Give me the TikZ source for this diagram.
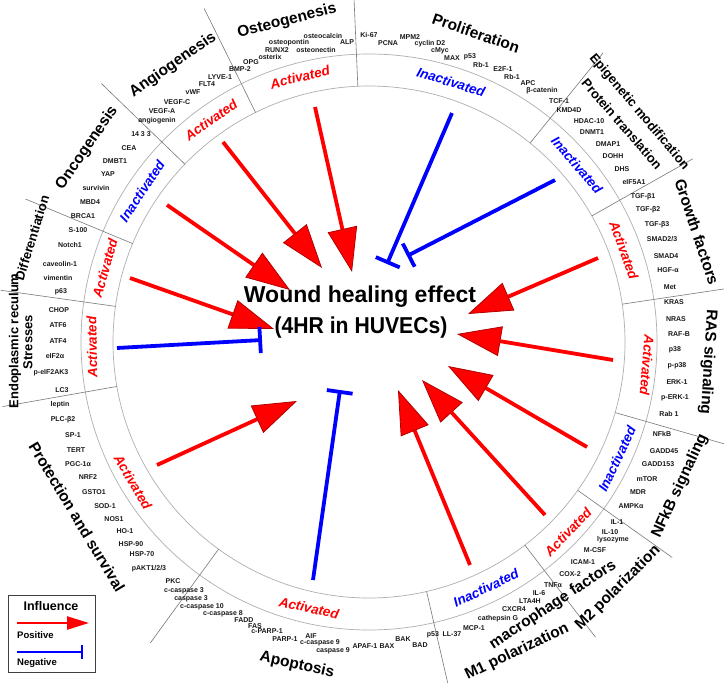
\documentclass[tikz,border=0pt]{standalone}
\usepackage{fontspec}
\setmainfont{Liberation Sans}
\usetikzlibrary{arrows.meta}
\definecolor{ringgray}{RGB}{175,175,175}
\definecolor{divgray}{RGB}{120,120,120}
\definecolor{actred}{RGB}{255,0,0}
\definecolor{inblue}{RGB}{0,0,255}
\definecolor{itemtxt}{RGB}{25,25,25}
\newcount\nodecnt
\newcommand\itm[3]{\global\advance\nodecnt by 1 \node[itm] (it\the\nodecnt) at (#1,-#2) {#3};}
\newcommand\lab[5]{\global\advance\nodecnt by 1 \node[state, text=#4, rotate=#3] (lb\the\nodecnt) at (#1,-#2) {#5};}
\newcommand\cattitle[5]{\global\advance\nodecnt by 1 \node[#4, rotate=#3] (ct\the\nodecnt) at (#1,-#2) {#5};}
\begin{document}
\begin{tikzpicture}[x=1pt,y=1pt,
  itm/.style={font=\fontsize{7}{8}\selectfont\bfseries, text=itemtxt, inner sep=0pt},
  ring/.style={draw=ringgray, line width=0.7pt},
  divider/.style={draw=divgray, line width=0.6pt},
  state/.style={font=\fontsize{13.5}{15}\selectfont\bfseries\itshape, inner sep=0pt},
  cat/.style={font=\fontsize{15.5}{18}\selectfont\bfseries, inner sep=0pt},
  catsm/.style={font=\fontsize{13}{15}\selectfont\bfseries, inner sep=0pt},
  posarr/.style={draw=actred, line width=3.8pt, -{Triangle[length=44pt,width=30pt,line width=0.8pt,fill=actred,color=red!70!black]}},
  negarr/.style={draw=inblue, line width=3.8pt, -{Bar[width=26pt]}},
]
\clip (0,0) rectangle (724,-683);
\fill[white] (0,0) rectangle (724,-683);

% rings
\coordinate (C) at (369,-342);
\draw[ring] (C) circle[radius=256];
\draw[ring] (C) circle[radius=288];
\begin{scope}[shift={(369,-342)}]
\foreach \a in {92.5,116.3,136,157.4,172,190,234,283,307.5,324.6,344,8.5,29.5,51}
  \draw[divider] (\a:256) -- (\a:372);
\end{scope}

% title
\node[font=\fontsize{23}{31}\selectfont\bfseries, inner sep=0pt] (title1) at (360,-297) {Wound healing effect};
\node[font=\fontsize{23}{31}\selectfont\bfseries, inner sep=0pt, xscale=0.92] (title2) at (361,-328) {(4HR in HUVECs)};

% arrows
\coordinate (s1) at (315,-107);  \coordinate (e1) at (352,-272);
\coordinate (s2) at (223,-142);  \coordinate (e2) at (322,-268);
\coordinate (s3) at (167,-205);  \coordinate (e3) at (290,-290);
\coordinate (s4) at (130,-278);  \coordinate (e4) at (274,-329);
\coordinate (s5) at (117,-348);  \coordinate (e5) at (262,-340);
\coordinate (s6) at (157,-465);  \coordinate (e6) at (297,-401);
\coordinate (s7) at (313,-580);  \coordinate (e7) at (340,-390);
\coordinate (s8) at (470,-565);  \coordinate (e8) at (398,-390);
\coordinate (s9) at (545,-515);  \coordinate (e9) at (422,-380);
\coordinate (s10) at (587,-447); \coordinate (e10) at (448,-366);
\coordinate (s11) at (613,-360); \coordinate (e11) at (457,-334);
\coordinate (s12) at (598,-258); \coordinate (e12) at (468,-314);
\coordinate (s13) at (555,-180); \coordinate (e13) at (407,-256);
\coordinate (s14) at (452,-113); \coordinate (e14) at (387,-264);
\draw[posarr] (s1) -- (e1);
\draw[posarr] (s2) -- (e2);
\draw[posarr] (s3) -- (e3);
\draw[posarr] (s4) -- (e4);
\draw[negarr] (s5) -- (e5);
\draw[posarr] (s6) -- (e6);
\draw[negarr] (s7) -- (e7);
\draw[posarr] (s8) -- (e8);
\draw[posarr] (s9) -- (e9);
\draw[posarr] (s10) -- (e10);
\draw[posarr] (s11) -- (e11);
\draw[posarr] (s12) -- (e12);
\draw[negarr] (s13) -- (e13);
\draw[negarr] (s14) -- (e14);

% ring state labels
\lab{300}{77}{14}{actred}{Activated}
\lab{451}{82}{-17.4}{inblue}{Inactivated}
\lab{577}{165}{-49.6}{inblue}{Inactivated}
\lab{624}{250}{-70.2}{actred}{Activated}
\lab{647}{365}{-94.7}{actred}{Activated}
\lab{617}{459}{64.7}{inblue}{Inactivated}
\lab{568}{532}{46.3}{actred}{Activated}
\lab{486}{588}{25.4}{inblue}{Inactivated}
\lab{309}{608}{-12.7}{actred}{Activated}
\lab{133}{482}{-59.3}{actred}{Activated}
\lab{92}{347}{91}{actred}{Activated}
\lab{105}{268}{74.3}{actred}{Activated}
\lab{142}{191}{56.4}{inblue}{Inactivated}
\lab{211}{120}{35.4}{actred}{Activated}

% category titles
\cattitle{287}{21}{14.4}{cat}{Osteogenesis}
\cattitle{476}{33}{-19}{cat}{Proliferation}
\cattitle{639}{112}{-49.8}{catsm}{Epigenetic modification}
\cattitle{622}{124}{-49.1}{catsm}{Protein translation}
\cattitle{697}{232}{-71.5}{cat}{Growth factors}
\cattitle{708}{362}{-93.4}{cat}{RAS signaling}
\cattitle{680}{486}{65}{cat}{NFkB signaling}
\cattitle{618}{588}{45}{cat}{M2 polarization}
\cattitle{553}{605}{33.5}{cat}{macrophage factors}
\cattitle{517}{652}{25.5}{cat}{M1 polarization}
\cattitle{297}{665}{-12.6}{cat}{Apoptosis}
\cattitle{77}{517}{-59}{cat}{Protection and survival}
\cattitle{15}{341}{90}{catsm}{Endoplasmic reculum}
\cattitle{28}{342}{90}{catsm}{Stresses}
\cattitle{32}{238}{72.8}{catsm}{Differentiation}
\cattitle{87}{148}{55.5}{cat}{Oncogenesis}
\cattitle{173}{65}{35}{cat}{Angiogenesis}

% items: osteogenesis
\itm{323}{36}{osteocalcin}
\itm{347}{42}{ALP}
\itm{289}{43}{osteopontin}
\itm{277}{50}{RUNX2}
\itm{316}{50}{osteonectin}
\itm{270}{57}{osterix}
\itm{251}{62}{OPG}
\itm{240}{69}{BMP-2}
% angiogenesis
\itm{220}{77}{LYVE-1}
\itm{207}{84}{FLT4}
\itm{193}{92}{vWF}
\itm{177}{102}{VEGF-C}
\itm{162}{111}{VEGF-A}
\itm{157}{121}{angiogenin}
% oncogenesis
\itm{141}{134}{14 3 3}
\itm{129}{148}{CEA}
\itm{115}{161}{DMBT1}
\itm{108}{174}{YAP}
\itm{96}{188}{survivin}
\itm{90}{202}{MBD4}
\itm{83}{216}{BRCA1}
% differentiation
\itm{78}{230}{S-100}
\itm{70}{245}{Notch1}
\itm{60}{264}{caveolin-1}
\itm{58}{278}{vimentin}
\itm{61}{292}{p63}
% ER stress
\itm{59}{310}{CHOP}
\itm{58}{325}{ATF6}
\itm{58}{341}{ATF4}
\itm{55}{356}{eIF2α}
\itm{51}{373}{p-eIF2AK3}
\itm{62}{390}{LC3}
% protection
\itm{60}{405}{leptin}
\itm{63}{420}{PLC-β2}
\itm{73}{435}{SP-1}
\itm{76}{450}{TERT}
\itm{78}{464}{PGC-1α}
\itm{88}{477}{NRF2}
\itm{94}{492}{GSTO1}
\itm{105}{506}{SOD-1}
\itm{114}{519}{NOS1}
\itm{125}{531}{HO-1}
\itm{131}{544}{HSP-90}
\itm{142}{554}{HSP-70}
\itm{149}{569}{pAKT1/2/3}
% apoptosis
\itm{173}{581}{PKC}
\itm{184}{591}{c-caspase 3}
\itm{191}{599}{caspase 3}
\itm{202}{607}{c-caspase 10}
\itm{223}{614}{c-caspase 8}
\itm{244}{620}{FADD}
\itm{255}{626}{FAS}
\itm{267}{631}{c-PARP-1}
\itm{285}{639}{PARP-1}
\itm{311}{636}{AIF}
\itm{320}{643}{c-caspase 9}
\itm{333}{651}{caspase 9}
\itm{365}{646}{APAF-1}
\itm{387}{646}{BAX}
\itm{403}{639}{BAK}
\itm{420}{645}{BAD}
\itm{433}{635}{p53}
% M1
\itm{452}{634}{LL-37}
\itm{474}{628}{MCP-1}
\itm{498}{619}{cathepsin G}
\itm{514}{609}{CXCR4}
\itm{530}{601}{LTA4H}
\itm{539}{593}{IL-6}
\itm{553}{585}{TNFα}
% M2
\itm{570}{574}{COX-2}
\itm{583}{562}{ICAM-1}
\itm{595}{550}{M-CSF}
\itm{613}{540}{lysozyme}
\itm{610}{532}{IL-10}
\itm{617}{522}{IL-1}
% NFkB
\itm{631}{506}{AMPKα}
\itm{638}{492}{MDR}
\itm{647}{479}{mTOR}
\itm{658}{464}{GADD153}
\itm{664}{451}{GADD45}
\itm{662}{434}{NFkB}
% RAS
\itm{669}{414}{Rab 1}
\itm{675}{398}{p-ERK-1}
\itm{677}{382}{ERK-1}
\itm{677}{366}{p-p38}
\itm{675}{350}{p38}
\itm{679}{334}{RAF-B}
\itm{676}{319}{NRAS}
\itm{674}{302}{KRAS}
% growth factors
\itm{670}{287}{Met}
\itm{668}{270}{HGF-α}
\itm{666}{256}{SMAD4}
\itm{662}{239}{SMAD2/3}
\itm{657}{225}{TGF-β3}
\itm{648}{210}{TGF-β2}
\itm{643}{197}{TGF-β1}
% epigenetic / translation
\itm{634}{182}{eIF5A1}
\itm{622}{169}{DHS}
\itm{613}{156}{DOHH}
\itm{608}{144}{DMAP1}
\itm{592}{132}{DNMT1}
\itm{589}{121}{HDAC-10}
\itm{569}{110}{KMD4D}
% proliferation
\itm{559}{101}{TCF-1}
\itm{542}{91}{β-catenin}
\itm{528}{83}{APC}
\itm{512}{77}{Rb-1}
\itm{503}{69}{E2F-1}
\itm{481}{65}{Rb-1}
\itm{470}{57}{p53}
\itm{452}{58}{MAX}
\itm{440}{51}{cMyc}
\itm{430}{44}{cyclin D2}
\itm{410}{37}{MPM2}
\itm{388}{43}{PCNA}
\itm{369}{35}{Ki-67}

% legend
\node[draw=black!75, line width=0.9pt, minimum width=87pt, minimum height=77pt, inner sep=0pt] (legbox) at (51.5,-633.5) {};
\node[font=\fontsize{12.5}{14}\selectfont\bfseries, inner sep=0pt] (leghead) at (51,-606) {Influence};
\coordinate (lp1) at (17,-623); \coordinate (lp2) at (89,-623);
\draw[draw=actred, line width=2.4pt, -{Triangle[length=22pt,width=13pt,fill=actred,color=actred]}] (lp1) -- (lp2);
\node[font=\fontsize{9.5}{11}\selectfont\bfseries, anchor=west, inner sep=0pt] (legpos) at (17,-635) {Positive};
\coordinate (ln1) at (17,-652); \coordinate (ln2) at (83,-652);
\draw[draw=inblue, line width=2.2pt, -{Bar[width=14pt]}] (ln1) -- (ln2);
\node[font=\fontsize{9.5}{11}\selectfont\bfseries, anchor=west, inner sep=0pt] (legneg) at (17,-663) {Negative};
\end{tikzpicture}
\end{document}
